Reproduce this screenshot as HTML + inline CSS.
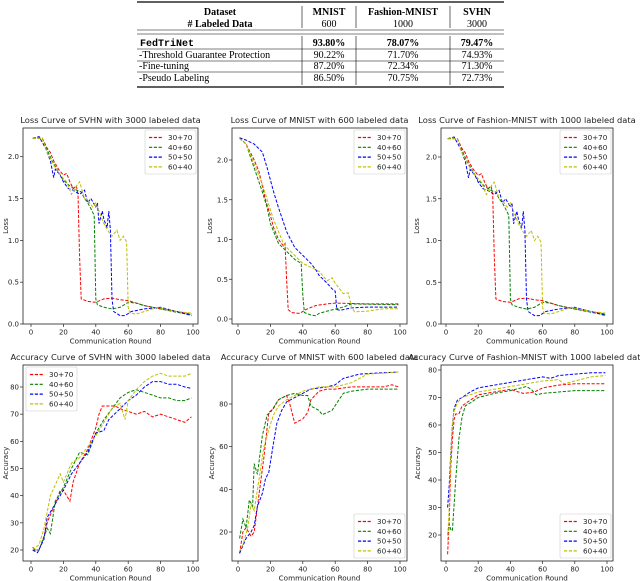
<!DOCTYPE html>
<html><head><meta charset="utf-8"><style>
body{margin:0;background:#fff;}
svg{display:block;}
.tb{font-family:"Liberation Serif",serif;font-size:10px;fill:#000;}
.tm{font-family:"Liberation Mono",monospace;font-size:10px;font-weight:bold;}
.ch{font-family:"DejaVu Sans","Liberation Sans",sans-serif;fill:#222;}
</style></head><body>
<svg id="fig" width="640" height="581" viewBox="0 0 640 581" xmlns="http://www.w3.org/2000/svg">
<g>
<line x1="137" y1="2" x2="504" y2="2" stroke="#000" stroke-width="1.2"/>
<line x1="137" y1="30" x2="504" y2="30" stroke="#000" stroke-width="0.6"/>
<line x1="137" y1="34" x2="504" y2="34" stroke="#000" stroke-width="0.6"/>
<line x1="137" y1="49" x2="504" y2="49" stroke="#000" stroke-width="0.6"/>
<line x1="137" y1="61" x2="504" y2="61" stroke="#000" stroke-width="0.6"/>
<line x1="137" y1="72" x2="504" y2="72" stroke="#000" stroke-width="0.6"/>
<line x1="137" y1="87" x2="504" y2="87" stroke="#000" stroke-width="1.2"/>
<g stroke="#000" stroke-width="0.6"><line x1="302" y1="6" x2="302" y2="28"/><line x1="302" y1="36" x2="302" y2="85"/><line x1="356" y1="6" x2="356" y2="28"/><line x1="356" y1="36" x2="356" y2="85"/><line x1="450" y1="6" x2="450" y2="28"/><line x1="450" y1="36" x2="450" y2="85"/></g>
<g class="tb" text-anchor="middle" font-weight="bold">
<text x="220" y="15">Dataset</text>
<text x="220" y="27"># Labeled Data</text>
<text x="329" y="15">MNIST</text>
<text x="403" y="15">Fashion-MNIST</text>
<text x="477" y="15">SVHN</text>
</g>
<g class="tb" text-anchor="middle">
<text x="329" y="27">600</text><text x="403" y="27">1000</text><text x="477" y="27">3000</text>
</g>
<text class="tm" x="140" y="46">FedTriNet</text>
<g class="tb">
<text x="139" y="58">-Threshold Guarantee Protection</text>
<text x="139" y="69">-Fine-tuning</text>
<text x="139" y="81">-Pseudo Labeling</text>
</g>
<g class="tb" text-anchor="middle" font-weight="bold"><text x="329" y="46">93.80%</text><text x="403" y="46">78.07%</text><text x="477" y="46">79.47%</text></g>
<g class="tb" text-anchor="middle">
<text x="329" y="58">90.22%</text><text x="403" y="58">71.70%</text><text x="477" y="58">74.93%</text>
<text x="329" y="69">87.20%</text><text x="403" y="69">72.34%</text><text x="477" y="69">71.30%</text>
<text x="329" y="81">86.50%</text><text x="403" y="81">70.75%</text><text x="477" y="81">72.73%</text>
</g>
</g>
</svg>
<script>
const seriesNames=["30+70","40+60","50+50","60+40"];
const seriesColors=["#ff0000","#008000","#0000ff","#bfbf00"];
const xTicks=[0,20,40,60,80,100];
const lossTicks=[0.0,0.5,1.0,1.5,2.0];
const accTicksSVHN=[20,30,40,50,60,70,80];
const accTicksMNIST=[20,40,60,80];
const accTicksFashion=[20,30,40,50,60,70,80];

// Loss SVHN
const lsX0=[1,7,10,12,14,17,20,22,24,26,28,29,30,31,35,40,45,50,55,60,65,70,80,90,99];
const lsY0=[2.22,2.22,2.1,2.05,1.95,1.85,1.78,1.8,1.7,1.62,1.65,1.55,0.8,0.3,0.27,0.26,0.3,0.31,0.29,0.28,0.25,0.22,0.18,0.15,0.12];
const lsX1=[1,7,10,13,16,20,24,28,31,33,35,37,39,40,41,45,50,55,60,65,70,80,90,99];
const lsY1=[2.22,2.22,2.08,1.95,1.85,1.72,1.65,1.6,1.58,1.5,1.45,1.38,1.3,0.3,0.23,0.2,0.18,0.2,0.26,0.25,0.22,0.18,0.14,0.11];
const lsX2=[1,5,9,12,14,15,18,20,23,26,30,33,35,37,40,41,42,44,45,47,48,49,50,51,55,58,62,70,80,90,99];
const lsY2=[2.22,2.24,2.1,1.95,1.75,1.85,1.78,1.7,1.62,1.6,1.55,1.6,1.45,1.5,1.4,1.45,1.2,1.35,1.25,1.15,1.35,1.12,0.3,0.15,0.1,0.1,0.15,0.18,0.2,0.15,0.1];
const lsX3=[1,7,10,14,18,22,25,28,30,33,35,38,40,43,45,48,50,53,55,57,59,60,61,65,70,78,85,90,99];
const lsY3=[2.22,2.22,2.05,1.9,1.78,1.7,1.55,1.65,1.7,1.5,1.48,1.4,1.45,1.3,1.2,1.1,1.05,1.12,1.0,1.05,0.98,0.2,0.13,0.12,0.15,0.2,0.17,0.15,0.13];

// Loss MNIST
const lmX0=[1,5,10,13,17,20,22,25,28,29,30,31,33,38,42,48,55,60,80,99];
const lmY0=[2.28,2.2,2.0,1.85,1.5,1.3,1.15,1.0,0.92,0.95,0.5,0.12,0.08,0.07,0.12,0.17,0.19,0.2,0.19,0.19];
const lmX1=[1,5,10,15,18,20,25,30,35,39,40,41,45,48,50,55,65,70,99];
const lmY1=[2.27,2.2,1.9,1.6,1.4,1.2,0.95,0.85,0.75,0.7,0.3,0.08,0.05,0.04,0.07,0.1,0.15,0.19,0.18];
const lmX2=[1,5,10,15,18,22,25,30,35,40,45,48,50,55,58,60,61,63,70,80,99];
const lmY2=[2.28,2.25,2.2,2.1,1.9,1.6,1.4,1.1,0.9,0.8,0.7,0.62,0.55,0.45,0.38,0.35,0.12,0.11,0.14,0.15,0.15];
const lmX3=[1,5,10,15,18,22,25,28,30,35,40,45,50,55,58,60,65,68,70,72,80,90,99];
const lmY3=[2.27,2.2,1.95,1.7,1.5,1.25,1.1,0.95,0.9,0.8,0.7,0.65,0.6,0.48,0.52,0.45,0.32,0.33,0.15,0.09,0.1,0.13,0.13];

// Loss Fashion
const lfX0=[1,7,10,12,14,17,20,22,24,26,28,29,30,31,35,40,45,50,55,60,65,70,80,90,99];
const lfY0=[2.22,2.22,2.1,2.05,1.95,1.85,1.78,1.8,1.7,1.62,1.65,1.55,0.8,0.3,0.27,0.26,0.3,0.31,0.29,0.28,0.25,0.22,0.18,0.15,0.12];
const lfX1=[1,7,10,13,16,20,24,28,31,33,35,37,39,40,41,45,50,55,60,65,70,80,90,99];
const lfY1=[2.22,2.22,2.08,1.95,1.85,1.72,1.65,1.6,1.58,1.5,1.45,1.38,1.3,0.3,0.23,0.2,0.18,0.2,0.26,0.25,0.22,0.18,0.14,0.11];
const lfX2=[1,5,9,12,14,15,18,20,23,26,30,33,35,37,40,41,42,44,45,47,48,49,50,51,55,58,62,70,80,90,99];
const lfY2=[2.22,2.24,2.1,1.95,1.75,1.85,1.78,1.7,1.62,1.6,1.55,1.6,1.45,1.5,1.4,1.45,1.2,1.35,1.25,1.15,1.35,1.12,0.3,0.15,0.1,0.1,0.15,0.18,0.2,0.15,0.1];
const lfX3=[1,7,10,14,18,22,25,28,30,33,35,38,40,43,45,48,50,53,55,57,59,60,61,65,70,78,85,90,99];
const lfY3=[2.22,2.22,2.05,1.9,1.78,1.7,1.55,1.65,1.7,1.5,1.48,1.4,1.45,1.3,1.2,1.1,1.05,1.12,1.0,1.05,0.98,0.2,0.13,0.12,0.15,0.2,0.17,0.15,0.13];

// Accuracy SVHN
const asX0=[1,3,5,8,10,12,15,18,20,22,24,26,30,35,40,42,44,48,52,55,60,65,70,75,80,85,90,95,99];
const asY0=[21,20,20,25,30,33,37,42,42,40,38,45,52,57,65,70,73,73,73,72,71,70,71,69,70,69,68,67,69];
const asX1=[1,5,10,12,15,20,25,30,35,40,45,50,55,60,65,70,75,80,85,90,95,99];
const asY1=[20,20,28,26,38,43,50,56,55,63,68,72,76,78,79,78,77,76,76,75,75,76];
const asX2=[1,4,8,10,15,20,25,30,35,40,45,48,55,60,65,70,75,80,85,90,95,99];
const asY2=[20,19,24,32,37,42,48,52,56,63,64,68,72,75,77,80,82,82,81,81,80,79.5];
const asX3=[1,5,8,12,15,18,20,25,30,35,40,45,50,55,58,60,65,70,75,80,85,90,95,99];
const asY3=[20,22,28,40,44,48,45,52,54,58,62,67,72,74,68,75,79,82,84,85,84,84,84,85];

// Accuracy MNIST
const amX0=[1,3,5,8,10,13,16,19,22,25,30,32,35,40,43,45,50,55,60,70,80,90,95,99];
const amY0=[10,20,22,18,20,38,55,76,78,82,84,80,71,73,76,82,86,87,87,88,88,88,89,88];
const amX1=[1,3,5,7,9,10,12,15,18,20,25,30,35,40,43,45,50,52,58,65,70,80,90,99];
const amY1=[17,26,22,35,32,52,47,65,75,76,82,84,85,84,84,79,77,75,77,85,86,87,87,87];
const amX2=[1,5,8,10,12,15,17,19,22,24,27,30,35,40,45,55,60,65,75,85,99];
const amY2=[10,17,20,23,32,38,45,48,62,71,77,81,83,85,87,88,89,92,94,94.5,95];
const amX3=[1,3,6,8,10,13,16,19,22,25,30,35,40,50,60,70,75,80,90,99];
const amY3=[11,14,22,33,30,45,60,68,75,79,82,84,86,88,88,90,92,94,94.5,95];

// Accuracy Fashion
const afX0=[1,2,3,4,5,6,8,10,15,20,30,40,45,48,55,60,70,80,90,99];
const afY0=[13,25,45,55,62,64,64,67,69,71,72,73,72,71.5,72,73.5,74.5,75,75,75];
const afX1=[1,2,3,4,6,8,10,12,15,20,30,40,50,53,56,60,70,80,90,99];
const afY1=[20,24,22,21.5,40,55,63,67,68,70,71.5,72.5,74,73,71,71.5,72,72.5,72.5,72.5];
const afX2=[1,2,3,4,5,7,10,15,20,30,40,50,55,60,65,70,80,90,99];
const afY2=[30,38,50,60,66,69,70,72,73.5,74.5,75.5,76.5,77,77.5,77,78,78.5,79,79];
const afX3=[1,2,3,4,5,7,10,15,20,30,40,50,60,70,73,80,90,99];
const afY3=[18,30,50,60,65,68,70,71,72,73,74,75,76,76.5,75,76,77.5,78];

const NS="http://www.w3.org/2000/svg";
const fig=document.getElementById('fig');
function el(tag,attrs,parent){const e=document.createElementNS(NS,tag);for(const k in attrs)e.setAttribute(k,attrs[k]);(parent||fig).appendChild(e);return e;}

function chart(cfg){
  const g=el('g',{});
  
  
  const sx=v=>cfg.px0+(v-0)*(cfg.px100-cfg.px0)/100;
  const sy=v=>cfg.py0+(v-cfg.v0)*(cfg.py1-cfg.py0)/(cfg.v1-cfg.v0);
  cfg.series.forEach((s,i)=>{
    let d='';
    s[0].forEach((x,j)=>{d+=(j?'L':'M')+sx(x).toFixed(1)+','+sy(s[1][j]).toFixed(1);});
    const p=el('path',{d:d,fill:'none',stroke:seriesColors[i],'stroke-width':1,'stroke-dasharray':'3.2,1.6'},g);
    
    
  });
  const fr=el('rect',{x:cfg.L,y:cfg.T,width:cfg.R-cfg.L,height:cfg.B-cfg.T,fill:'none',stroke:'#222','stroke-width':0.8},g);
  
  
  xTicks.forEach(t=>{
    const x=sx(t);
    el('line',{x1:x,y1:cfg.B,x2:x,y2:cfg.B+3,stroke:'#222','stroke-width':0.7},g);
    const tx=el('text',{x:x,y:cfg.B+10.5,'text-anchor':'middle','font-size':7,class:'ch'},g);
    tx.textContent=t;
    
    
  });
  cfg.yTicks.forEach(t=>{
    const y=sy(t);
    el('line',{x1:cfg.L-3,y1:y,x2:cfg.L,y2:y,stroke:'#222','stroke-width':0.7},g);
    const ty=el('text',{x:cfg.L-4,y:y+2.5,'text-anchor':'end','font-size':7,class:'ch'},g);
    ty.textContent=cfg.loss?t.toFixed(1):t;
    
    
  });
  const ti=el('text',{x:(cfg.L+cfg.R)/2,y:cfg.T-5,'text-anchor':'middle','font-size':8.3,class:'ch'},g);
  ti.textContent=cfg.title;
  
  
  const xl=el('text',{x:(cfg.L+cfg.R)/2,y:cfg.B+19.5,'text-anchor':'middle','font-size':7.2,class:'ch'},g);
  xl.textContent='Communication Round';
  
  
  const yl=el('text',{x:0,y:0,'text-anchor':'middle','font-size':7.2,class:'ch',transform:`translate(${cfg.ylx},${(cfg.T+cfg.B)/2}) rotate(-90)`},g);
  yl.textContent=cfg.loss?'Loss':'Accuracy';
  
  
  const lw=51,lh=44;
  const lx=cfg.legTop?cfg.L+3:cfg.R-lw-2;
  const ly=cfg.legBottom?cfg.B-lh-3:cfg.T+2;
  const lg=el('g',{},g);
  
  
  el('rect',{x:lx,y:ly,width:lw,height:lh,fill:'#fff','fill-opacity':0.85,stroke:'#ccc','stroke-width':0.6,rx:1.5},lg);
  seriesNames.forEach((n,i)=>{
    const yy=ly+7.5+i*9.8;
    const ln=el('line',{x1:lx+4,y1:yy,x2:lx+18,y2:yy,stroke:seriesColors[i],'stroke-width':1.2,'stroke-dasharray':'3.2,1.6'},lg);
    
    
    const t=el('text',{x:lx+23,y:yy+2.6,'font-size':7.2,class:'ch'},lg);
    t.textContent=n;
    
    
  });
}

chart({name:'loss-svhn-chart',title:'Loss Curve of SVHN with 3000 labeled data',L:23,R:198,T:128,B:324,px0:31,px100:193,v0:0,v1:2,py0:324,py1:156.7,yTicks:lossTicks,loss:true,ylx:8,
  series:[[lsX0,lsY0],[lsX1,lsY1],[lsX2,lsY2],[lsX3,lsY3]]});
chart({name:'loss-mnist-chart',title:'Loss Curve of MNIST with 600 labeled data',L:232,R:407,T:128,B:324,px0:238,px100:400,v0:0,v1:2,py0:319,py1:160,yTicks:lossTicks,loss:true,ylx:212,
  series:[[lmX0,lmY0],[lmX1,lmY1],[lmX2,lmY2],[lmX3,lmY3]]});
chart({name:'loss-fashion-chart',title:'Loss Curve of Fashion-MNIST with 1000 labeled data',L:441,R:613,T:128,B:324,px0:446,px100:607,v0:0,v1:2,py0:324,py1:157,yTicks:lossTicks,loss:true,ylx:419,
  series:[[lfX0,lfY0],[lfX1,lfY1],[lfX2,lfY2],[lfX3,lfY3]]});
chart({name:'accuracy-svhn-chart',title:'Accuracy Curve of SVHN with 3000 labeled data',L:23,R:198,T:365,B:561,px0:31,px100:193,v0:20,v1:80,py0:550,py1:387,yTicks:accTicksSVHN,loss:false,ylx:8,legTop:true,
  series:[[asX0,asY0],[asX1,asY1],[asX2,asY2],[asX3,asY3]]});
chart({name:'accuracy-mnist-chart',title:'Accuracy Curve of MNIST with 600 labeled data',L:232,R:407,T:365,B:561,px0:238,px100:400,v0:20,v1:80,py0:532,py1:404,yTicks:accTicksMNIST,loss:false,ylx:214,legBottom:true,
  series:[[amX0,amY0],[amX1,amY1],[amX2,amY2],[amX3,amY3]]});
chart({name:'accuracy-fashion-chart',title:'Accuracy Curve of Fashion-MNIST with 1000 labeled data',L:441,R:613,T:365,B:561,px0:446,px100:607,v0:20,v1:80,py0:535,py1:370,yTicks:accTicksFashion,loss:false,ylx:420,legBottom:true,
  series:[[afX0,afY0],[afX1,afY1],[afX2,afY2],[afX3,afY3]]});
</script>
</body></html>
